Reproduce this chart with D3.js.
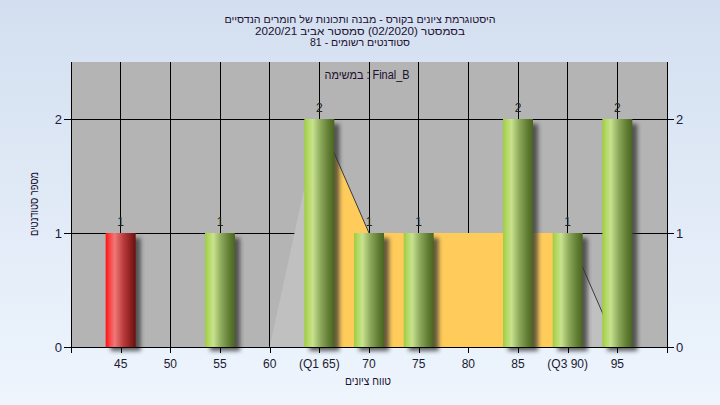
<!DOCTYPE html>
<html><head><meta charset="utf-8">
<script src="https://cdn.jsdelivr.net/npm/d3@7"></script>
<style>
html,body{margin:0;padding:0;}
body{width:720px;height:405px;overflow:hidden;}
text{font-family:"Liberation Sans",Arial,sans-serif;}
</style></head>
<body>
<svg id="c" width="720" height="405"></svg>
<script>
// ---- data ----
const titleLines = [
  "היסטוגרמת ציונים בקורס - מבנה ותכונות של חומרים הנדסיים",
  "בסמסטר  (02/2020)  סמסטר אביב 2020/21",
  "סטודנטים רשומים - 81"
];
const titleWidths = [271, 210, 100];
const legendText = "במשימה : Final_B";
const xAxisTitle = "טווח ציונים";
const yAxisTitle = "מספר סטודנטים";
const tickValues = [45, 50, 55, 60, 65, 70, 75, 80, 85, 90, 95];
const tickLabels = ["45", "50", "55", "60", "(Q1 65)", "70", "75", "80", "85", "(Q3 90)", "95"];
const barGrades = [45, 55, 65, 70, 75, 85, 90, 95];
const barCounts = [1, 1, 2, 1, 1, 2, 1, 2];
const barFail = [true, false, false, false, false, false, false, false];
const areaGrades = [60, 65, 70, 75, 80, 85, 90, 95];
const areaValues = [0, 2, 1, 1, 1, 1, 1, 0];
const q1 = 65, q3 = 90;
const yTicks = [0, 1, 2];

// ---- layout ----
const svg = d3.select("#c");
const L = 71, R = 667, T = 62, B = 347;
const x = d3.scaleLinear().domain([40, 100]).range([L, R]);
const y = d3.scaleLinear().domain([0, 2.5]).range([B, T]);

const defs = svg.append("defs");
const bg = defs.append("linearGradient").attr("id", "bg").attr("x1", 0).attr("y1", 0).attr("x2", 0).attr("y2", 1);
bg.append("stop").attr("offset", "0%").attr("stop-color", "#d3dff0");
bg.append("stop").attr("offset", "100%").attr("stop-color", "#eef5fd");

function barGrad(id, stops) {
  const g = defs.append("linearGradient").attr("id", id).attr("x1", 0).attr("y1", 0).attr("x2", 1).attr("y2", 0);
  stops.forEach(s => g.append("stop").attr("offset", s[0]).attr("stop-color", s[1]));
}
barGrad("gGreen", [["0%", "#9fcd3e"], ["12%", "#b2d862"], ["28%", "#c8e28e"], ["55%", "#8ba75a"], ["80%", "#627f34"], ["100%", "#4a6420"]]);
barGrad("gRed", [["0%", "#ff1010"], ["12%", "#fb4040"], ["30%", "#f07878"], ["60%", "#b83a3a"], ["100%", "#6c0e0e"]]);
const shf = defs.append("filter").attr("id", "blur").attr("x", "-50%").attr("y", "-20%").attr("width", "200%").attr("height", "140%");
shf.append("feGaussianBlur").attr("stdDeviation", 2.2);

svg.append("rect").attr("width", 720).attr("height", 405).attr("fill", "url(#bg)");

// title
svg.append("g").selectAll("text").data(titleLines).join("text")
  .attr("x", 360).attr("y", (d, i) => 23 + i * 11.5)
  .attr("text-anchor", "middle").attr("direction", "rtl")
  .attr("font-size", 10.5).attr("fill", "#1c1030")
  .attr("textLength", (d, i) => titleWidths[i]).attr("lengthAdjust", "spacingAndGlyphs")
  .text(d => d);

// plot background
svg.append("rect").attr("x", L).attr("y", T).attr("width", R - L).attr("height", B - T).attr("fill", "#b4b4b4");

// gridlines
const grid = svg.append("g");
grid.selectAll("line.v").data(x.ticks(12).filter(v => v > 40 && v < 100)).join("line")
  .attr("x1", d => x(d)).attr("x2", d => x(d)).attr("y1", T).attr("y2", B)
  .attr("stroke", "#000").attr("stroke-width", 1).attr("shape-rendering", "crispEdges");
grid.selectAll("line.h").data(yTicks.filter(v => v > 0)).join("line")
  .attr("x1", L).attr("x2", R).attr("y1", d => y(d)).attr("y2", d => y(d))
  .attr("stroke", "#000").attr("stroke-width", 1).attr("shape-rendering", "crispEdges");

// area series split by quartiles
const pts = areaGrades.map((g, i) => ({ g, v: areaValues[i] }));
const area = d3.area().x(d => x(d.g)).y0(y(0)).y1(d => y(d.v));
const parts = [
  { data: pts.filter(d => d.g <= q1), color: "#c0c0c0" },
  { data: pts.filter(d => d.g >= q1 && d.g <= q3), color: "#ffcc5c" },
  { data: pts.filter(d => d.g >= q3), color: "#c0c0c0" }
];
svg.append("g").selectAll("path").data(parts).join("path")
  .attr("d", d => area(d.data)).attr("fill", d => d.color);
const segs = [];
for (let i = 1; i < pts.length; i++) {
  if (pts[i - 1].g >= q1 && pts[i].v !== pts[i - 1].v) segs.push([pts[i - 1], pts[i]]);
}
svg.append("g").selectAll("path").data(segs).join("path")
  .attr("d", d3.line().x(d => x(d.g)).y(d => y(d.v)))
  .attr("fill", "none").attr("stroke", "#3a3a3a").attr("stroke-width", 1);

// bars
const bw = 30;
const bars = barGrades.map((g, i) => ({ g, c: barCounts[i], fail: barFail[i] }));
const bg2 = svg.append("g");
bg2.selectAll("rect.s").data(bars).join("rect")
  .attr("x", d => x(d.g) - bw / 2 + 5).attr("y", d => y(d.c) + 5)
  .attr("width", bw).attr("height", d => y(0) - y(d.c) - 1)
  .attr("fill", "#333").attr("opacity", 0.75).attr("filter", "url(#blur)");
bg2.selectAll("rect.b").data(bars).join("rect")
  .attr("x", d => x(d.g) - bw / 2).attr("y", d => y(d.c))
  .attr("width", bw).attr("height", d => y(0) - y(d.c))
  .attr("fill", d => d.fail ? "url(#gRed)" : "url(#gGreen)");
bg2.selectAll("text").data(bars).join("text")
  .attr("x", d => x(d.g)).attr("y", d => y(d.c) - 7)
  .attr("text-anchor", "middle").attr("font-size", 12).attr("fill", "#202020")
  .text(d => d.c);

// legend text
svg.append("text").attr("x", 367).attr("y", 79).attr("text-anchor", "middle")
  .attr("font-size", 12).attr("fill", "#1c1030")
  .attr("textLength", 85).attr("lengthAdjust", "spacingAndGlyphs").text(legendText);

// axes
const axB = svg.append("g");
axB.append("line").attr("x1", L).attr("x2", R).attr("y1", B + 0.5).attr("y2", B + 0.5).attr("stroke", "#000");
axB.selectAll("line.t").data(x.ticks(12)).join("line")
  .attr("x1", d => Math.round(x(d)) + 0.5).attr("x2", d => Math.round(x(d)) + 0.5)
  .attr("y1", B).attr("y2", B + 6).attr("stroke", "#000");
axB.selectAll("text").data(tickValues).join("text")
  .attr("x", d => x(d)).attr("y", 368).attr("text-anchor", "middle")
  .attr("font-size", 12).attr("fill", "#1a1a30")
  .text((d, i) => tickLabels[i]);

const axY = svg.append("g");
[L, R].forEach((px, side) => {
  axY.append("line").attr("x1", px + 0.5).attr("x2", px + 0.5).attr("y1", T).attr("y2", B)
    .attr("stroke", "#000");
  axY.selectAll("line.t" + side).data(yTicks).join("line")
    .attr("x1", side ? px : px - 7).attr("x2", side ? px + 7 : px)
    .attr("y1", d => Math.round(y(d)) + 0.5).attr("y2", d => Math.round(y(d)) + 0.5).attr("stroke", "#000");
  axY.selectAll("text.t" + side).data(yTicks).join("text")
    .attr("x", side ? px + 9 : px - 9).attr("y", d => y(d) + 5)
    .attr("text-anchor", side ? "start" : "end")
    .attr("font-size", 13).attr("fill", "#1a2040")
    .text(d => d);
});

// axis titles
svg.append("text").attr("x", 368).attr("y", 385).attr("text-anchor", "middle")
  .attr("direction", "rtl").attr("font-size", 12).attr("fill", "#1c1030")
  .attr("textLength", 46).attr("lengthAdjust", "spacingAndGlyphs").text(xAxisTitle);
svg.append("text").attr("transform", "translate(38,204) rotate(-90)").attr("text-anchor", "middle")
  .attr("direction", "rtl").attr("font-size", 12).attr("fill", "#1c1030")
  .attr("textLength", 64).attr("lengthAdjust", "spacingAndGlyphs").text(yAxisTitle);
</script>
</body></html>
